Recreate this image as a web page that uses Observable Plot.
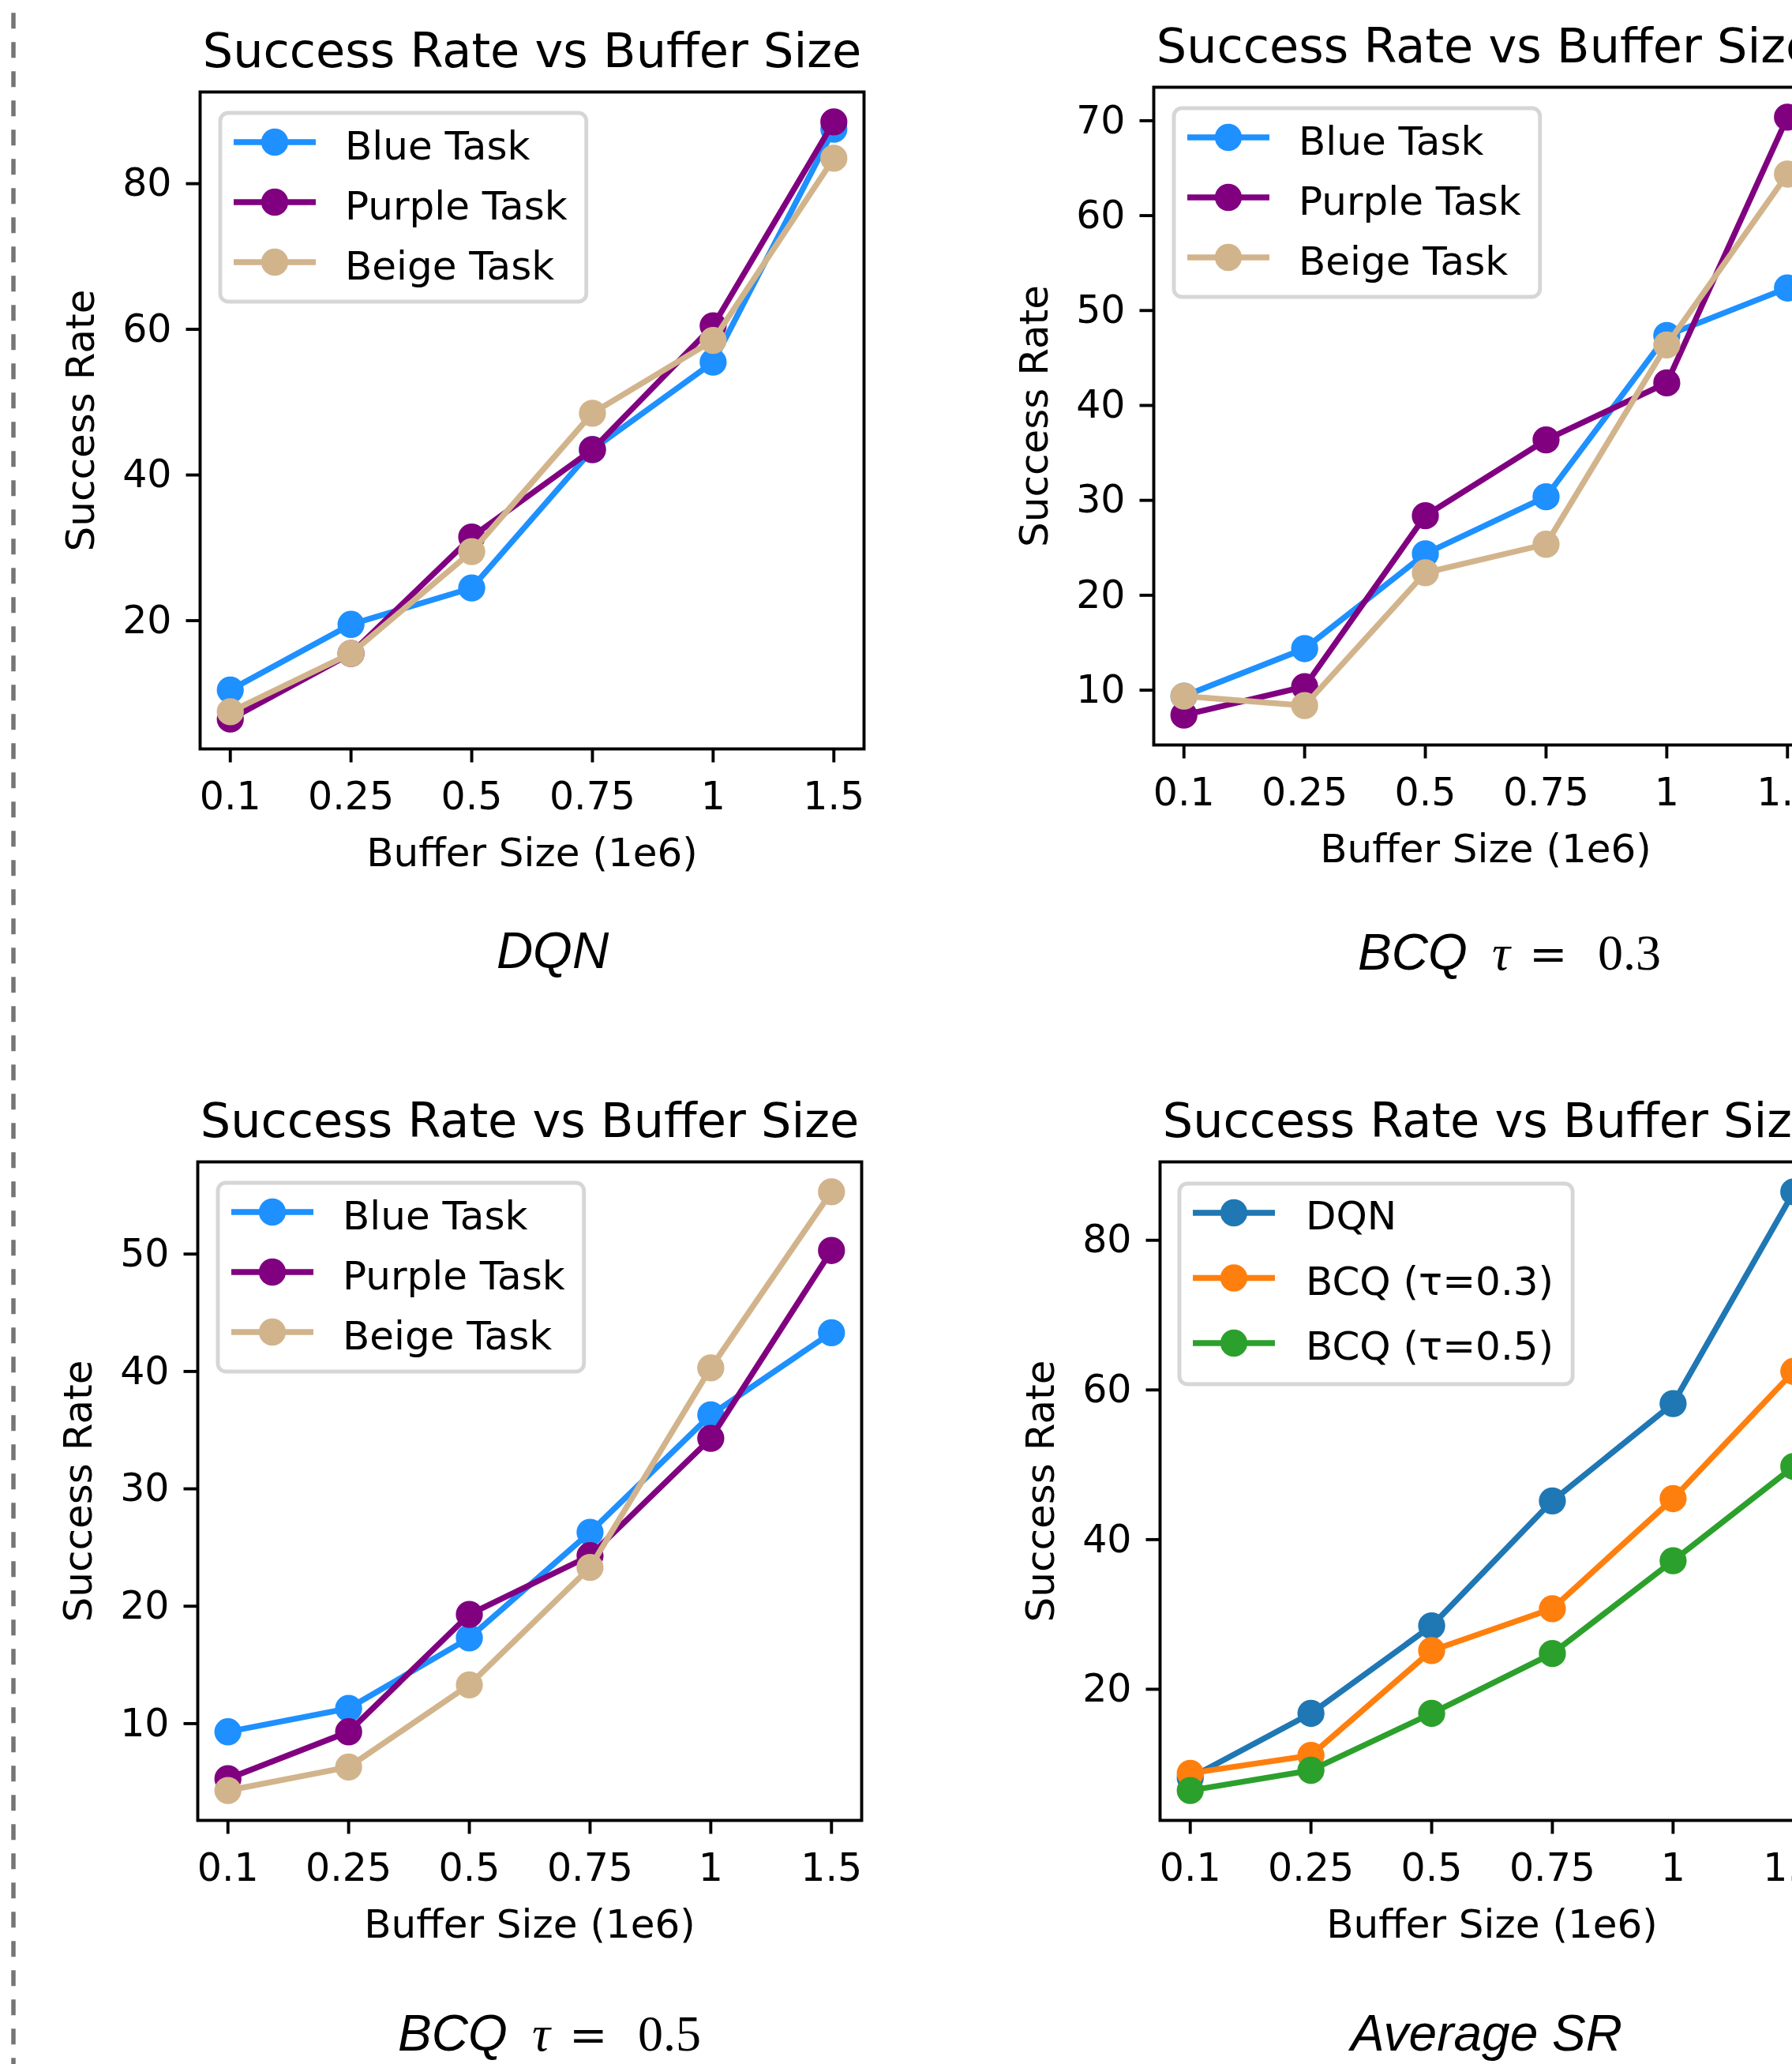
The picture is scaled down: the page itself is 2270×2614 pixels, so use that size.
<!DOCTYPE html>
<html><head><meta charset="utf-8">
<script src="https://cdn.jsdelivr.net/npm/d3@7"></script>
<script src="https://cdn.jsdelivr.net/npm/@observablehq/plot@0.6"></script>
<style>
html,body{margin:0;padding:0;background:#fff;overflow:hidden;}
#fig{position:relative;width:2270px;height:2614px;overflow:hidden;background:#fff;}
#fig svg{position:absolute;max-width:none;}
</style></head><body><div id="fig"></div>
<script>
// ---------- data ----------
const categories = ["0.1", "0.25", "0.5", "0.75", "1", "1.5"];
const taskNames = ["Blue Task", "Purple Task", "Beige Task"];
const taskColors = ["#1E90FF", "#800080", "#D2B48C"];
const avgNames = ["DQN", "BCQ (τ=0.3)", "BCQ (τ=0.5)"];
const avgColors = ["#1f77b4", "#ff7f0e", "#2ca02c"];

const dqnBlue   = [10, 19, 24, 43, 55, 87];
const dqnPurple = [6, 15, 31, 43, 60, 88];
const dqnBeige  = [7, 15, 29, 48, 58, 83];

const bcq3Blue   = [9, 14, 24, 30, 47, 52];
const bcq3Purple = [7, 10, 28, 36, 42, 70];
const bcq3Beige  = [9, 8, 22, 25, 46, 64];

const bcq5Blue   = [9, 11, 17, 26, 36, 43];
const bcq5Purple = [5, 9, 19, 24, 34, 50];
const bcq5Beige  = [4, 6, 13, 23, 40, 55];

const avgDQN  = [7.7, 16.3, 28, 44.7, 57.7, 86];
const avgBCQ3 = [8.3, 10.7, 24.7, 30.3, 45, 62];
const avgBCQ5 = [6, 8.7, 16.3, 24.3, 36.7, 49.3];

const ticksDQN  = [20, 40, 60, 80];
const ticksBCQ3 = [10, 20, 30, 40, 50, 60, 70];
const ticksBCQ5 = [10, 20, 30, 40, 50];
const ticksAvg  = [20, 40, 60, 80];

const panelTitle = "Success Rate vs Buffer Size";
const xLabel = "Buffer Size (1e6)";
const yLabel = "Success Rate";

// ---------- styling ----------
const FS = 49, LEG_FS = 50, LABEL_FS = 50, TITLE_FS = 60.5, LW = 7.35, MR = 14.7, MEW = 4.9, SPINE = 3.9, TICK = 17.5;
const SANS = "DejaVu Sans";

const fig = document.getElementById("fig");

function panel(cfg) {
  const {left, top, W, H, fl, ft, fr, fb, names, colors, values, yTicks, legend} = cfg;
  const rows = [];
  names.forEach((n, i) => values[i].forEach((v, j) => rows.push({x: categories[j], y: v, name: n})));
  const lo = d3.min(rows, d => d.y), hi = d3.max(rows, d => d.y), pad = 0.05 * (hi - lo);
  const marks = [];
  names.forEach((n, i) => {
    const d = rows.filter(r => r.name === n);
    marks.push(Plot.line(d, {x: "x", y: "y", stroke: colors[i], strokeWidth: LW, strokeLinecap: "square", strokeLinejoin: "round"}));
    marks.push(Plot.dot(d, {x: "x", y: "y", r: MR, fill: colors[i], stroke: colors[i], strokeWidth: MEW}));
  });
  marks.push(
    Plot.frame({stroke: "#000", strokeWidth: SPINE}),
    Plot.axisX({ticks: categories, tickSize: TICK, tickPadding: 24.5, strokeWidth: SPINE, fontSize: FS, label: null}),
    Plot.axisY({ticks: yTicks, tickSize: TICK, tickPadding: 18.5, strokeWidth: SPINE, fontSize: FS, label: null, dy: 4.5, tickFormat: d => String(d)}),
    Plot.text([panelTitle], {text: d => d, frameAnchor: "top", textAnchor: "middle", dy: -32, lineAnchor: "bottom", fontSize: TITLE_FS, fill: "#000"}),
    Plot.text([yLabel], {text: d => d, frameAnchor: "left", textAnchor: "middle", rotate: -90, dx: -135, lineAnchor: "bottom", fontSize: LABEL_FS, fill: "#000"}),
    Plot.text([xLabel], {text: d => d, frameAnchor: "bottom", textAnchor: "middle", dy: 148, lineAnchor: "bottom", fontSize: LABEL_FS, fill: "#000"})
  );
  const svg = Plot.plot({
    width: W, height: H,
    marginLeft: fl, marginTop: ft, marginRight: W - fr, marginBottom: H - fb,
    style: {fontFamily: SANS, fontSize: FS + "px", color: "#000", background: "transparent", overflow: "visible", maxWidth: "none"},
    x: {type: "point", domain: categories, padding: 0.25, round: false},
    y: {domain: [lo - pad, hi + pad]},
    marks
  });
  svg.style.left = left + "px";
  svg.style.top = top + "px";
  fig.appendChild(svg);

  // legend (upper left, inside the frame)
  const g = d3.select(svg).append("g").attr("transform", `translate(${fl + legend.ox},${ft + legend.oy})`);
  const rect = g.append("rect").attr("x", 0).attr("y", 0).attr("height", legend.h).attr("rx", 10)
    .attr("fill", "#fff").attr("fill-opacity", 0.8).attr("stroke", "#cccccc").attr("stroke-opacity", 0.8).attr("stroke-width", 4.9);
  let maxLen = 0;
  names.forEach((n, i) => {
    const y = legend.first + i * legend.gap;
    g.append("line").attr("x1", 20.7).attr("x2", 117.3).attr("y1", y).attr("y2", y)
      .attr("stroke", colors[i]).attr("stroke-width", LW).attr("stroke-linecap", "square");
    g.append("circle").attr("cx", 69).attr("cy", y).attr("r", MR).attr("fill", colors[i]).attr("stroke", colors[i]).attr("stroke-width", MEW);
    const t = g.append("text").attr("x", legend.tx).attr("y", y + legend.tdy).attr("text-anchor", "start")
      .attr("font-family", SANS).attr("font-size", LEG_FS + "px").attr("fill", "#000").text(n);
    maxLen = Math.max(maxLen, t.node().getComputedTextLength());
  });
  rect.attr("width", legend.tx + maxLen + 24);
}

const taskLegend = {ox: 26, oy: 27, h: 239, first: 37, gap: 76, tx: 158, tdy: 22};
const avgLegend = {ox: 25, oy: 28, h: 254, first: 37, gap: 82.5, tx: 160, tdy: 21};

panel({left: 0, top: 0, W: 1135, H: 1300, fl: 253, ft: 116, fr: 1094, fb: 948,
  names: taskNames, colors: taskColors, values: [dqnBlue, dqnPurple, dqnBeige], yTicks: ticksDQN, legend: taskLegend});
panel({left: 1135, top: 0, W: 1300, H: 1300, fl: 326, ft: 110, fr: 1167, fb: 943,
  names: taskNames, colors: taskColors, values: [bcq3Blue, bcq3Purple, bcq3Beige], yTicks: ticksBCQ3, legend: taskLegend});
panel({left: 0, top: 1300, W: 1135, H: 1314, fl: 250, ft: 171, fr: 1091, fb: 1005,
  names: taskNames, colors: taskColors, values: [bcq5Blue, bcq5Purple, bcq5Beige], yTicks: ticksBCQ5, legend: taskLegend});
panel({left: 1135, top: 1300, W: 1300, H: 1314, fl: 334, ft: 171, fr: 1175, fb: 1005,
  names: avgNames, colors: avgColors, values: [avgDQN, avgBCQ3, avgBCQ5], yTicks: ticksAvg, legend: avgLegend});

// ---------- overlay: separator and sub-figure captions ----------
const ov = d3.select(fig).append("svg").attr("width", 2270).attr("height", 2614)
  .style("left", "0px").style("top", "0px").style("pointer-events", "none");
ov.append("line").attr("x1", 17).attr("x2", 17).attr("y1", 0).attr("y2", 2614)
  .attr("stroke", "#757575").attr("stroke-width", 5.5).attr("stroke-dasharray", "20 17").attr("stroke-dashoffset", 20.7);

const CAP_FS = 64;
function plainCaption(txt, cx, by) {
  ov.append("text").attr("x", cx).attr("y", by).attr("text-anchor", "middle")
    .attr("font-family", "Liberation Sans").attr("font-style", "italic").attr("font-size", CAP_FS).attr("fill", "#000").text(txt);
}
function bcqCaption(tau, x0, by) {
  const t = ov.append("text").attr("y", by).attr("font-size", CAP_FS).attr("fill", "#000").attr("text-anchor", "start");
  t.append("tspan").attr("x", x0).attr("font-family", "Liberation Sans").attr("font-style", "italic").text("BCQ");
  t.append("tspan").attr("x", x0 + 170).attr("font-family", "Liberation Serif").attr("font-style", "italic").text("τ");
  t.append("tspan").attr("x", x0 + 217).attr("font-family", "DejaVu Serif").attr("font-size", 58).text("=");
  t.append("tspan").attr("x", x0 + 304).attr("font-family", "Liberation Serif").text(tau);
}
plainCaption("DQN", 700, 1226);
bcqCaption("0.3", 1720, 1228);
bcqCaption("0.5", 504, 2597);
plainCaption("Average SR", 1883, 2597);
</script></body></html>
